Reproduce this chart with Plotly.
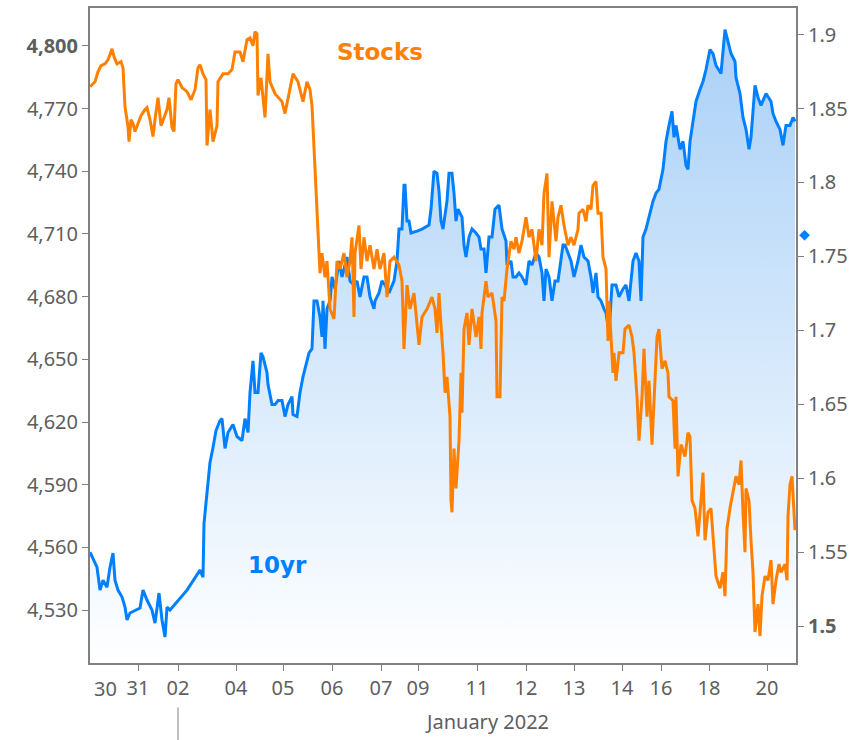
import plotly.graph_objects as go

# ---- X axis: session time units (compressed trading time) ----
day_labels = ["30", "31", "02", "04", "05", "06", "07", "09", "11", "12", "13", "14", "16", "18", "20"]
day_pos = [15, 48, 88, 146, 193, 242, 291, 328, 387, 436, 484, 532, 571, 619, 677]
month_label = "January 2022"

# ---- Stocks (S&P 500 futures) ----
stock_t = [
    0, 5, 8, 11, 15, 18, 21, 22, 24, 27, 31, 33, 35, 38, 39, 41, 43, 45, 48, 51,
    55, 57, 60, 63, 65, 68, 71, 74, 77, 79, 82, 84, 86, 88, 92, 97, 101, 105, 108, 110,
    113,
    116, 117, 120, 123, 127, 128, 133, 138, 142, 145, 150, 153, 157, 160, 163, 165, 167, 168, 171, 173,
    175, 178, 180, 185, 192, 195, 198, 203, 208, 213, 217, 220, 222, 224, 227, 230, 232, 235,
    237, 240, 244, 247, 250, 254, 257, 260, 262, 264, 265, 269, 271, 274, 277, 280, 284, 287, 290, 294,
    297, 300, 304, 309, 312, 314, 317, 320, 324, 327, 329, 332, 337, 342, 345, 347,
    349, 351, 353, 355, 357, 360, 361, 362, 364, 366, 369, 371, 372, 374, 377, 379, 382, 386, 389, 391,
    392, 396, 398, 402, 406, 407, 410, 412, 414, 417, 421, 424, 426, 429, 432, 436, 439, 442, 446, 449,
    452, 454, 457, 459, 462, 466,
    468, 471, 474, 478, 481, 484, 488, 489, 493, 496, 498, 501, 503, 506, 508, 511, 513, 516, 518, 519,
    521, 523, 524, 526, 529, 533, 535, 539, 542, 544, 547, 549, 552, 554, 557, 559, 562, 564, 567, 569,
    572, 575, 578, 579, 583, 585,
    586, 588, 591, 595, 598, 600, 602, 605, 608, 611, 613, 615, 618, 621, 624, 626, 630, 633, 635, 637,
    640, 643, 646, 649, 651, 653, 655, 656, 659, 661, 663, 665, 668, 670, 672, 675, 678, 681, 683, 686,
    689, 691, 695, 697, 698, 700, 702, 705,
]
stock_v = [
    4780.4, 4782.8, 4787.6, 4790.5, 4791.4, 4793.3, 4797.1, 4798.6, 4794.8, 4791.4,
    4792.4, 4789.5, 4770.9, 4761.4, 4754.2, 4764.7, 4762.8, 4759.0, 4762.8, 4766.6,
    4769.5, 4770.4, 4764.7, 4756.6, 4764.7, 4775.2, 4761.8, 4765.7, 4769.5, 4775.2,
    4760.9, 4759.0, 4781.9, 4783.8, 4780.0, 4778.1, 4774.2, 4779.0, 4789.5, 4790.9,
    4786.6,
    4783.8, 4752.3, 4769.5, 4754.2, 4761.8, 4782.8, 4786.6, 4786.6, 4788.6, 4797.1,
    4797.1, 4792.4, 4802.9, 4803.8, 4800.0, 4806.7, 4805.7, 4776.2, 4784.7, 4773.3,
    4765.7, 4796.2, 4782.8, 4777.1, 4773.3, 4767.6, 4775.2, 4786.6, 4782.8, 4773.3,
    4782.8, 4779.0, 4771.4, 4750.4, 4719.9, 4691.2, 4700.8, 4689.3,
    4697.0, 4674.1, 4669.3, 4697.0, 4693.2, 4700.8, 4689.3, 4697.0, 4708.4, 4670.3,
    4700.8, 4714.1, 4693.2, 4708.4, 4697.0, 4704.6, 4693.2, 4702.7, 4693.2, 4700.8,
    4679.8, 4697.0, 4698.9, 4695.1, 4687.4, 4655.0, 4685.5, 4674.1, 4681.7, 4666.4,
    4656.9, 4670.3, 4674.1, 4679.8, 4674.1, 4662.6,
    4681.7, 4666.4, 4653.1, 4634.0, 4641.6, 4622.6, 4582.5, 4576.8, 4607.3, 4588.2,
    4611.1, 4643.5, 4624.5, 4664.5, 4672.2, 4656.9, 4674.1, 4660.7, 4670.3, 4655.0,
    4672.2, 4687.4, 4679.8, 4681.7, 4668.4, 4632.1, 4632.1, 4679.8, 4677.9, 4693.2,
    4706.5, 4702.7, 4708.4, 4700.8, 4706.5, 4718.0, 4708.4, 4712.2, 4697.0, 4712.2,
    4704.6, 4729.4, 4738.9, 4698.9, 4725.6, 4706.5,
    4718.0, 4723.7, 4714.1, 4704.6, 4708.4, 4704.6, 4712.2, 4719.9, 4721.8, 4716.0,
    4723.7, 4721.8, 4733.2, 4735.1, 4719.9, 4719.9, 4698.9, 4693.2, 4658.8, 4677.9,
    4658.8, 4643.5, 4653.1, 4639.7, 4653.1, 4653.1, 4664.5, 4666.4, 4660.7, 4653.1,
    4632.1, 4611.1, 4632.1, 4655.0, 4622.6, 4639.7, 4609.2, 4630.2, 4660.7, 4664.5,
    4645.5, 4649.3, 4643.5, 4632.1, 4630.2, 4607.3,
    4632.1, 4594.0, 4609.2, 4603.5, 4614.9, 4613.0, 4582.5, 4578.7, 4565.3, 4582.5,
    4595.8, 4563.4, 4576.8, 4578.7, 4557.7, 4546.2, 4540.5, 4548.1, 4536.7, 4569.1,
    4578.7, 4586.3, 4594.0, 4590.1, 4601.6, 4576.8, 4557.7, 4588.2, 4582.5, 4563.4,
    4548.1, 4519.5, 4532.9, 4517.6, 4536.7, 4546.2, 4544.3, 4553.9, 4532.9, 4544.3,
    4552.0, 4548.1, 4552.0, 4544.3, 4574.9, 4590.1, 4594.0, 4568.2,
]

# ---- 10yr Treasury yield ----
yield_t = [
    0, 7, 10, 13, 17, 20, 23, 25, 28, 32, 35, 37, 40, 50, 53, 57, 62, 65, 69, 72,
    75, 77, 80, 97, 110, 113, 114, 117, 118, 120, 123, 126, 130, 132, 135, 138, 143, 147, 152, 155,
    158, 160, 163, 165, 168, 171, 173, 177, 178, 182, 185, 188, 192, 195, 198, 202, 203, 207, 210, 213,
    217, 219, 222, 224, 227, 230, 232, 233, 235, 237, 240, 242, 245, 249, 252, 257, 260, 264, 267, 270,
    274, 277, 280, 284, 285, 289, 292, 295, 299, 304, 307, 309, 312, 314, 315, 317, 319, 321, 327, 332,
    339, 341, 344, 347, 349, 351, 353, 355, 357, 359, 362, 364, 366, 368, 372, 374, 376, 379, 382, 386,
    389, 391, 394, 396, 399, 402, 405, 409, 412, 416, 417, 421, 423, 426, 429, 432, 436, 439, 442, 446,
    449, 452, 454, 456, 459, 462, 465, 468, 471, 473, 475, 478, 481, 484, 488, 491, 494, 498, 501, 503,
    506, 508, 511, 514, 516, 519, 522, 526, 529, 533, 536, 539, 543, 546, 549, 551, 553, 556, 559, 563,
    566, 569, 573, 576, 579, 582, 584, 586, 590, 593, 596, 598, 600, 603, 606, 610, 613, 616, 620, 623,
    626, 631, 633, 635, 638, 641, 645, 646, 650, 653, 656, 659, 661, 665, 668, 671, 676, 681, 683, 686,
    690, 693, 696, 700, 703, 705,
]
yield_v = [
    1.5499, 1.5398, 1.5243, 1.5310, 1.5263, 1.5398, 1.5493, 1.5310, 1.5243, 1.5196,
    1.5128, 1.5041, 1.5088, 1.5122, 1.5243, 1.5176, 1.5108, 1.5020, 1.5223, 1.5041,
    1.4926, 1.5128, 1.5108, 1.5243, 1.5378, 1.5331, 1.5695, 1.5904, 1.5965, 1.6106,
    1.6208, 1.6322, 1.6390, 1.6403, 1.6201, 1.6309, 1.6363, 1.6282, 1.6255, 1.6403,
    1.6309, 1.6579, 1.6794, 1.6579, 1.6579, 1.6848, 1.6821, 1.6713, 1.6633, 1.6498,
    1.6498, 1.6525, 1.6525, 1.6417, 1.6498, 1.6552, 1.6430, 1.6417, 1.6579, 1.6686,
    1.6794, 1.6848, 1.6875, 1.7199, 1.7199, 1.7091, 1.6956, 1.7199, 1.6875, 1.7145,
    1.7199, 1.7361, 1.7280, 1.7469, 1.7361, 1.7496, 1.7334, 1.7307, 1.7334, 1.7226,
    1.7361, 1.7361, 1.7226, 1.7145, 1.7199, 1.7253, 1.7334, 1.7307, 1.7253, 1.7334,
    1.7469, 1.7685, 1.7685, 1.7982, 1.7982, 1.7739, 1.7739, 1.7658, 1.7671, 1.7685,
    1.7712, 1.7820, 1.8076, 1.8062, 1.7941, 1.7739, 1.7685, 1.7793, 1.7874, 1.8062,
    1.8062, 1.7928, 1.7739, 1.7820, 1.7766, 1.7577, 1.7496, 1.7631, 1.7685, 1.7658,
    1.7631, 1.7550, 1.7550, 1.7388, 1.7631, 1.7631, 1.7820, 1.7847, 1.7685, 1.7604,
    1.7442, 1.7469, 1.7361, 1.7361, 1.7388, 1.7361, 1.7307, 1.7469, 1.7442, 1.7523,
    1.7496, 1.7388, 1.7199, 1.7415, 1.7361, 1.7199, 1.7334, 1.7334, 1.7469, 1.7577,
    1.7577, 1.7523, 1.7469, 1.7361, 1.7469, 1.7577, 1.7496, 1.7469, 1.7361, 1.7253,
    1.7388, 1.7226, 1.7199, 1.7145, 1.7118, 1.6983, 1.7307, 1.7307, 1.7226, 1.7280,
    1.7307, 1.7199, 1.7469, 1.7523, 1.7469, 1.7199, 1.7631, 1.7685, 1.7766, 1.7874,
    1.7928, 1.7955, 1.8089, 1.8278, 1.8386, 1.8481, 1.8305, 1.8386, 1.8224, 1.8278,
    1.8116, 1.8089, 1.8278, 1.8413, 1.8548, 1.8629, 1.8683, 1.8764, 1.8899, 1.8872,
    1.8791, 1.8737, 1.8899, 1.9034, 1.8953, 1.8872, 1.8818, 1.8710, 1.8602, 1.8440,
    1.8359, 1.8224, 1.8305, 1.8656, 1.8575, 1.8521, 1.8602, 1.8548, 1.8467, 1.8413,
    1.8359, 1.8251, 1.8386, 1.8386, 1.8440, 1.8413,
]
yield_marker = 1.765

stock_ticks = [4530, 4560, 4590, 4620, 4650, 4680, 4710, 4740, 4770, 4800]
yield_ticks = [1.5, 1.55, 1.6, 1.65, 1.7, 1.75, 1.8, 1.85, 1.9]

assert len(stock_t) == len(stock_v)
assert len(yield_t) == len(yield_v)

ORANGE = "#ff8000"
BLUE = "#0080ff"
AXIS = "#808080"
TXT = "#5e5e5e"
FONT_FAMILY = "Noto Sans, DejaVu Sans, sans-serif"
TICKFONT = dict(family=FONT_FAMILY, size=20, color=TXT)

stock_text = [("<b>%s</b>" if v == 4800 else "%s") % f"{v:,}" for v in stock_ticks]
yield_text = [("<b>%s</b>" if v == 1.5 else "%s") % f"{v:g}" for v in yield_ticks]

fig = go.Figure()

fig.add_trace(go.Scatter(
    x=yield_t, y=yield_v, yaxis="y", mode="lines",
    line=dict(color=BLUE, width=3),
    fill="tozeroy",
    fillgradient=dict(type="vertical", start=1.475, stop=1.905,
                      colorscale=[[0, "#ffffff"], [1, "#a9d0f7"]]),
    hoverinfo="skip", showlegend=False,
))
fig.add_trace(go.Scatter(
    x=stock_t, y=stock_v, yaxis="y2", mode="lines",
    line=dict(color=ORANGE, width=3),
    hoverinfo="skip", showlegend=False,
))

fig.update_layout(
    width=860, height=740,
    margin=dict(l=90, r=64, t=6, b=77),
    paper_bgcolor="white", plot_bgcolor="white",
    showlegend=False,
    xaxis=dict(
        range=[0, 706], showgrid=False, zeroline=False,
        showline=True, linecolor=AXIS, linewidth=2, mirror=True,
        tickmode="array", tickvals=day_pos[1:], ticktext=day_labels[1:],
        ticks="outside", ticklen=6, tickcolor=AXIS, tickwidth=1,
        tickfont=TICKFONT,
    ),
    yaxis=dict(
        range=[1.475, 1.918], side="right", showgrid=False, zeroline=False,
        showline=True, linecolor=AXIS, linewidth=2,
        tickmode="array", tickvals=yield_ticks, ticktext=yield_text,
        ticks="outside", ticklen=6, tickcolor=AXIS, tickwidth=1,
        tickfont=TICKFONT,
    ),
    yaxis2=dict(
        range=[4504.7, 4818.1], side="left", overlaying="y", showgrid=False, zeroline=False,
        showline=True, linecolor=AXIS, linewidth=2,
        tickmode="array", tickvals=stock_ticks, ticktext=stock_text,
        ticks="outside", ticklen=6, tickcolor=AXIS, tickwidth=1,
        tickfont=TICKFONT,
    ),
    annotations=[
        # first day label (no tick mark in the original)
        dict(text=day_labels[0], x=day_pos[0], y=0, xref="x", yref="paper",
             yshift=-25, xanchor="center", yanchor="middle", showarrow=False,
             font=TICKFONT),
        dict(text="<b>Stocks</b>", x=0.4108, y=0.933, xref="paper", yref="paper",
             xanchor="center", yanchor="middle", showarrow=False,
             font=dict(family="DejaVu Sans", size=23, color=ORANGE)),
        dict(text="<b>10yr</b>", x=0.2649, y=0.149, xref="paper", yref="paper",
             xanchor="center", yanchor="middle", showarrow=False,
             font=dict(family="DejaVu Sans", size=23, color=BLUE)),
        dict(text=month_label, x=0.5623, y=-0.09, xref="paper", yref="paper",
             xanchor="center", yanchor="middle", showarrow=False,
             font=dict(family=FONT_FAMILY, size=20, color=TXT)),
        dict(text="◆", x=1.0, y=yield_marker, xref="paper", yref="y", xshift=8,
             xanchor="center", yanchor="middle", showarrow=False,
             font=dict(family="DejaVu Sans", size=14, color=BLUE)),
    ],
    shapes=[
        dict(type="line", xref="x", yref="paper", x0=day_pos[2], x1=day_pos[2],
             y0=-0.068, y1=-0.12, line=dict(color=AXIS, width=1)),
    ],
)

fig.write_html(
    "out.html",
    config={"displayModeBar": False},
    post_script="document.body.style.margin='0';document.body.style.padding='0';",
)
